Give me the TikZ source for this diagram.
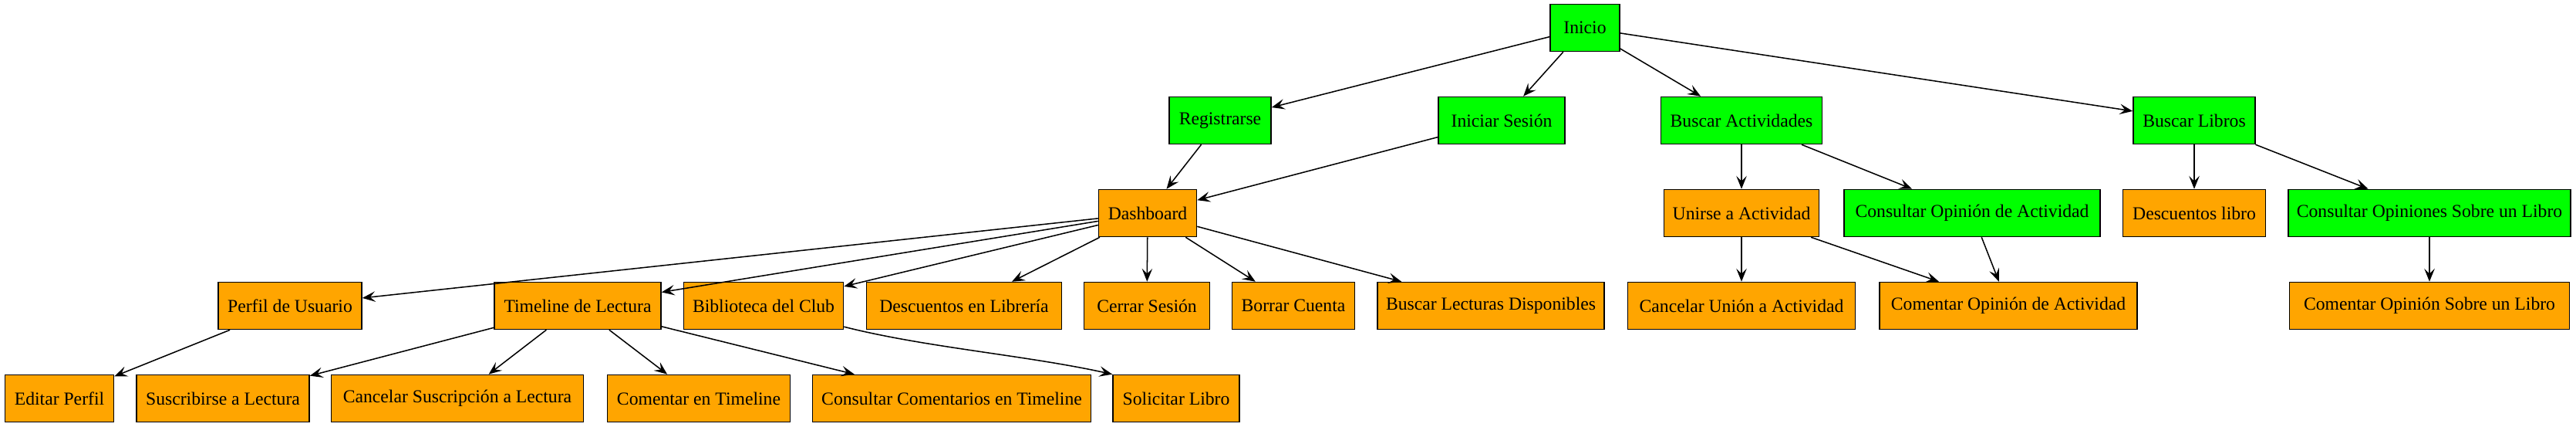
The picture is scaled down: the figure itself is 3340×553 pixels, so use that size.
\documentclass[tikz,border=0pt]{standalone}
\usepackage{fontspec}
\setmainfont{Liberation Serif}
\usetikzlibrary{arrows.meta}
\definecolor{gvgreen}{HTML}{00FF00}
\definecolor{gvorange}{HTML}{FFA500}
\tikzset{
  gbox/.style={draw=black, line width=0.9pt, rectangle, inner sep=0pt,
    minimum height=36.1pt, font=\fontsize{14pt}{16pt}\selectfont},
  grn/.style={gbox, fill=gvgreen},
  org/.style={gbox, fill=gvorange},
  gw/.style={minimum width=#1*0.5917pt},
  edge/.style={draw=black, line width=0.9pt,
    -{Stealth[length=10pt, width=8pt, inset=4pt]}}
}
\begin{document}
\begin{tikzpicture}[x=0.5917pt, y=-0.5917pt]
\useasboundingbox (0,0) rectangle (3340,553);
% row 0
\node[grn, gw=90] (ini) at (2055,36) {Inicio};
% row 1
\node[grn, gw=132] (reg) at (1582,156) {Registrarse};
\node[grn, gw=164] (ses) at (1947,156) {Iniciar Sesión};
\node[grn, gw=209] (bact) at (2258,156) {Buscar Actividades};
\node[grn, gw=158] (blib) at (2845,156) {Buscar Libros};
% row 2
\node[org, gw=127] (dash) at (1488,276) {Dashboard};
\node[org, gw=201] (unir) at (2258,276) {Unirse a Actividad};
\node[grn, gw=332] (coa) at (2557,276) {Consultar Opinión de Actividad};
\node[org, gw=185] (dlib) at (2845,276) {Descuentos libro};
\node[grn, gw=366] (cosl) at (3150,276) {Consultar Opiniones Sobre un Libro};
% row 3
\node[org, gw=186] (perf) at (376,396) {Perfil de Usuario};
\node[org, gw=216] (time) at (749,396) {Timeline de Lectura};
\node[org, gw=207] (bib) at (990,396) {Biblioteca del Club};
\node[org, gw=253] (dlr) at (1250,396) {Descuentos en Librería};
\node[org, gw=163] (cer) at (1487,396) {Cerrar Sesión};
\node[org, gw=159] (bor) at (1677,396) {Borrar Cuenta};
\node[org, gw=294] (bld) at (1933,396) {Buscar Lecturas Disponibles};
\node[org, gw=295] (canu) at (2258,396) {Cancelar Unión a Actividad};
\node[org, gw=334] (como) at (2604,396) {Comentar Opinión de Actividad};
\node[org, gw=363] (cosu) at (3150,396) {Comentar Opinión Sobre un Libro};
% row 4
\node[org, gw=141] (edit) at (77,516) {Editar Perfil};
\node[org, gw=224] (susc) at (289,516) {Suscribirse a Lectura};
\node[org, gw=327] (cans) at (593,516) {Cancelar Suscripción a Lectura};
\node[org, gw=237] (cotl) at (906,516) {Comentar en Timeline};
\node[org, gw=361] (cct) at (1234,516) {Consultar Comentarios en Timeline};
\node[org, gw=164] (sol) at (1525,516) {Solicitar Libro};
% edges
\draw[edge] (ini) -- (reg);
\draw[edge] (ini) -- (ses);
\draw[edge] (ini) -- (bact);
\draw[edge] (ini) -- (blib);
\draw[edge] (reg) -- (dash);
\draw[edge] (ses) -- (dash);
\draw[edge] (dash) -- (perf);
\draw[edge] (dash) -- (time);
\draw[edge] (dash) -- (bib);
\draw[edge] (dash) -- (dlr);
\draw[edge] (dash) -- (cer);
\draw[edge] (dash) -- (bor);
\draw[edge] (dash) -- (bld);
\draw[edge] (perf) -- (edit);
\draw[edge] (time) -- (susc);
\draw[edge] (time) -- (cans);
\draw[edge] (time) -- (cotl);
\draw[edge] (time) -- (cct);
\draw[edge] ([yshift=2.4pt]bib.south east) .. controls (1200,450) and (1330,460) .. (sol.north west);
\draw[edge] (bact) -- (unir);
\draw[edge] (bact) -- (coa);
\draw[edge] (blib) -- (dlib);
\draw[edge] (blib) -- (cosl);
\draw[edge] (unir) -- (canu);
\draw[edge] (unir) -- (como);
\draw[edge] (coa) -- (como);
\draw[edge] (cosl) -- (cosu);
\end{tikzpicture}
\end{document}
